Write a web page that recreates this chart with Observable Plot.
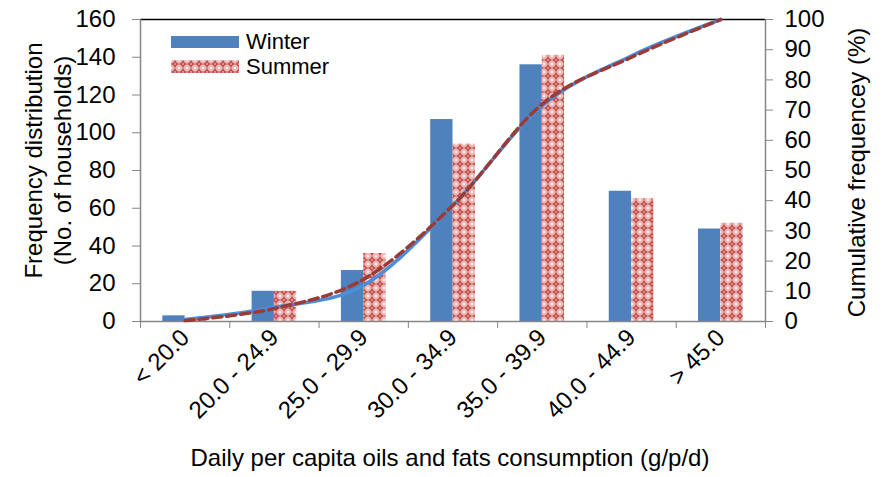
<!DOCTYPE html>
<html><head><meta charset="utf-8">
<script src="https://cdn.jsdelivr.net/npm/d3@7"></script>
<script src="https://cdn.jsdelivr.net/npm/@observablehq/plot@0.6"></script>
<style>
body{margin:0;background:#fff;font-family:"Liberation Sans",Arial,sans-serif;}
#wrap{position:relative;width:888px;height:477px;}
.legend{position:absolute;left:171px;top:29px;font-size:22px;color:#000;line-height:1;}
.legend div{display:flex;align-items:center;height:25px;}
.legend svg{margin-right:7px;display:block}
</style></head><body>
<svg width="0" height="0" style="position:absolute">
<defs><pattern id="summerPat" width="8" height="8" patternUnits="userSpaceOnUse">
<rect width="8" height="8" fill="#ecb7b5"/>
<rect x="3" y="0.6" width="2" height="6.8" fill="#c95a56"/>
<rect x="0.6" y="3" width="6.8" height="2" fill="#c95a56"/>
<circle cx="4" cy="4" r="2.3" fill="#c0504d"/>
<circle cx="4" cy="4" r="0.7" fill="#fff"/>
<circle cx="0" cy="0" r="1.1" fill="#fff"/>
<circle cx="8" cy="0" r="1.1" fill="#fff"/>
<circle cx="0" cy="8" r="1.1" fill="#fff"/>
<circle cx="8" cy="8" r="1.1" fill="#fff"/>
</pattern></defs></svg>
<div id="wrap"></div>
<script>
const categories = ["< 20.0", "20.0 - 24.9", "25.0 - 29.9", "30.0 - 34.9", "35.0 - 39.9", "40.0 - 44.9", "> 45.0"];
const winter = [3, 16, 27, 107, 136, 69, 49];
const summer = [1, 16, 36, 94, 141, 65, 52];
const winterCum = [0.7, 4.7, 12, 38.5, 71.5, 88, 100];
const summerCum = [0.3, 4.3, 14, 38.5, 72, 87.5, 100];
const leftTicks = [0, 20, 40, 60, 80, 100, 120, 140, 160];
const rightTicks = [0, 10, 20, 30, 40, 50, 60, 70, 80, 90, 100];

const k = 160 / 100; // right axis (%) mapped onto left scale
const grey = "#868686";
const idx = d3.range(categories.length);
const bounds = d3.range(categories.length + 1).map(i => i - 0.5);

const winterData = winter.map((v, i) => ({i, v}));
const summerData = summer.map((v, i) => ({i, v}));
const winterCumData = winterCum.map((v, i) => ({i, y: v * k}));
const summerCumData = summerCum.map((v, i) => ({i, y: v * k}));

const chart = Plot.plot({
  width: 888, height: 477,
  marginLeft: 140, marginRight: 123, marginTop: 19, marginBottom: 156,
  style: {fontFamily: '"Liberation Sans", Arial, sans-serif', background: "#fff", color: "#000"},
  x: {type: "linear", domain: [-0.5, 6.5], axis: null},
  y: {domain: [0, 160], axis: null},
  marks: [
    Plot.rectY(winterData, {x1: d => d.i - 0.25, x2: d => d.i, y: "v", fill: "#4F81BD"}),
    Plot.rectY(summerData, {x1: d => d.i, x2: d => d.i + 0.25, y: "v", fill: "url(#summerPat)"}),
    Plot.ruleY([0], {stroke: grey, strokeWidth: 1.5}),
    Plot.ruleY([160], {stroke: "#000", strokeWidth: 1.5}),
    Plot.ruleX([-0.5], {stroke: grey, strokeWidth: 1.5}),
    Plot.ruleX([6.5], {stroke: grey, strokeWidth: 1.5}),
    Plot.line(winterCumData, {x: "i", y: "y", stroke: "#4D8EDB", strokeWidth: 3.5, curve: "cardinal", tension: 0}),
    Plot.line(summerCumData, {x: "i", y: "y", stroke: "#9B3B38", strokeWidth: 3.5, strokeDasharray: "9,5", curve: "cardinal", tension: 0}),
    Plot.axisY(leftTicks, {anchor: "left", tickSize: 8, tickPadding: 17, fontSize: 24, stroke: grey, label: null}),
    Plot.axisY(rightTicks.map(v => v * k), {anchor: "right", tickSize: 7, tickPadding: 12, fontSize: 24, stroke: grey, label: null, tickFormat: d => String(Math.round(d / k))}),
    Plot.axisX(bounds, {anchor: "bottom", tickSize: 7, stroke: grey, tickFormat: () => "", label: null}),
    Plot.axisX(idx, {anchor: "bottom", tickSize: 0, tickPadding: 12, tickRotate: -45, fontSize: 24, tickFormat: i => categories[i], label: null}),
    Plot.text(["Frequency distribution\n(No. of households)"], {frameAnchor: "left", rotate: -90, dx: -93, dy: -10, fontSize: 24, lineHeight: 1.17, textAnchor: "middle"}),
    Plot.text(["Cumulative frequencey (%)"], {frameAnchor: "right", rotate: -90, dx: 92, dy: 2, fontSize: 24, textAnchor: "middle"}),
    Plot.text(["Daily per capita oils and fats consumption (g/p/d)"], {frameAnchor: "bottom", dx: -3, dy: 144, fontSize: 24, textAnchor: "middle"})
  ]
});
const wrap = document.getElementById("wrap");
wrap.appendChild(chart);

const legend = document.createElement("div");
legend.className = "legend";
legend.innerHTML = `
<div><svg width="68" height="12"><rect width="68" height="12" fill="#4F81BD"/></svg>Winter</div>
<div><svg width="68" height="13"><rect width="68" height="13" fill="url(#summerPat)"/></svg>Summer</div>`;
wrap.appendChild(legend);
</script>
</body></html>
